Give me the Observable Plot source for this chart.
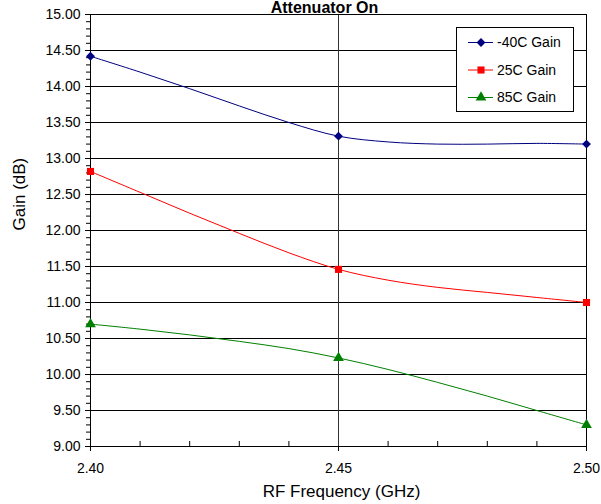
<!DOCTYPE html>
<html>
<head>
<meta charset="utf-8">
<script src="https://cdn.jsdelivr.net/npm/d3@7"></script>
<script src="https://cdn.jsdelivr.net/npm/@observablehq/plot@0.6"></script>
<style>
  html, body { margin: 0; padding: 0; background: #fff; }
  svg { font-family: "Liberation Sans", Arial, sans-serif; }
</style>
</head>
<body>
<div id="chart"></div>
<script>
// Frequencies (GHz) of the smoothed curve points
const freqs = [2.40, 2.41, 2.42, 2.43, 2.44, 2.45, 2.46, 2.47, 2.48, 2.49, 2.50];
// Frequencies where markers are shown
const markerFreqs = [2.40, 2.45, 2.50];
const gainM40 = [14.42, 14.20, 13.97, 13.73, 13.50, 13.31, 13.23, 13.20, 13.20, 13.21, 13.20];
const gain25  = [12.82, 12.53, 12.24, 11.96, 11.69, 11.46, 11.31, 11.21, 11.14, 11.07, 11.00];
const gain85  = [10.70, 10.63, 10.55, 10.46, 10.36, 10.23, 10.07, 9.89, 9.70, 9.50, 9.30];
const seriesNames = ["-40C Gain", "25C Gain", "85C Gain"];
const seriesColors = ["#000080", "#FF0000", "#008000"];
const seriesSymbols = ["diamond2", "square", "triangle"];
const xTicks = [2.40, 2.45, 2.50];
const xMinorTicks = [2.41, 2.42, 2.43, 2.44, 2.46, 2.47, 2.48, 2.49];
const yTicks = [9.0, 9.5, 10.0, 10.5, 11.0, 11.5, 12.0, 12.5, 13.0, 13.5, 14.0, 14.5, 15.0];
const yMinorTicks = d3.range(90, 151).map(v => v / 10);
const yGrid = [9.5, 10.0, 10.5, 11.0, 11.5, 12.0, 12.5, 13.0, 13.5, 14.0, 14.5];
const xGrid = [2.45];
const title = "Attenuator On";
const xLabel = "RF Frequency (GHz)";
const yLabel = "Gain (dB)";

const allGains = [gainM40, gain25, gain85];
const lineData = [];
allGains.forEach((g, s) => freqs.forEach((f, i) => lineData.push({f, gain: g[i], series: seriesNames[s]})));
const markerData = lineData.filter(d => markerFreqs.some(m => Math.abs(m - d.f) < 1e-9));

const marks = [
  Plot.ruleY(yGrid, {stroke: "#000", strokeWidth: 1}),
  Plot.ruleX(xGrid, {stroke: "#333", strokeWidth: 1}),
  Plot.axisY({ticks: yMinorTicks, tickSize: 4, tickFormat: null, text: null, label: null, stroke: "#000"}),
  Plot.axisY({ticks: yTicks, tickSize: 5, tickPadding: 5, tickFormat: d3.format(".2f"), label: null, fontSize: 14, stroke: "#000"}),
  Plot.axisX({ticks: xMinorTicks, tickSize: 5, dy: -5, text: null, label: null, stroke: "#000"}),
  Plot.axisX({ticks: xTicks, tickSize: 5, tickPadding: 12, tickFormat: d3.format(".2f"), label: null, fontSize: 14, stroke: "#000"}),
  Plot.frame({stroke: "#000"}),
];
seriesNames.forEach((name, s) => {
  const ld = lineData.filter(d => d.series === name);
  const md = markerData.filter(d => d.series === name);
  marks.push(Plot.line(ld, {x: "f", y: "gain", stroke: seriesColors[s], strokeWidth: 1, curve: "catmull-rom"}));
  marks.push(Plot.dot(md, {x: "f", y: "gain", fill: seriesColors[s], stroke: "none", symbol: seriesSymbols[s], r: s === 2 ? 4 : 4}));
});
marks.push(Plot.text([title], {frameAnchor: "top", dx: -14, dy: -2, lineAnchor: "bottom", fontWeight: "bold", fontSize: 16, fill: "#000"}));
marks.push(Plot.text([xLabel], {frameAnchor: "bottom", dx: 3, dy: 50, lineAnchor: "bottom", fontSize: 17, fill: "#000"}));
marks.push(Plot.text([yLabel], {frameAnchor: "left", dx: -71, rotate: -90, lineAnchor: "middle", fontSize: 17, fill: "#000"}));

const chart = Plot.plot({
  width: 601,
  height: 504,
  marginLeft: 90,
  marginRight: 15,
  marginTop: 14,
  marginBottom: 58,
  style: {fontFamily: "'Liberation Sans', Arial, sans-serif", fontSize: "14px", color: "#000", background: "#fff", overflow: "visible"},
  x: {domain: [2.40, 2.50]},
  y: {domain: [9, 15]},
  marks
});
document.getElementById("chart").appendChild(chart);

// Legend box (inside the plot area, top right)
const svg = d3.select(chart);
const lg = svg.append("g").attr("transform", "translate(456,27)").attr("text-anchor", "start");
lg.append("rect").attr("x", 0.5).attr("y", 0.5).attr("width", 117).attr("height", 84)
  .attr("fill", "#fff").attr("stroke", "#000").attr("stroke-width", 1);
const d3sym = {diamond2: d3.symbolDiamond2, square: d3.symbolSquare, triangle: d3.symbolTriangle};
seriesNames.forEach((name, s) => {
  const cy = 15.5 + s * 27.5;
  const row = lg.append("g").attr("transform", `translate(0,${cy})`);
  row.append("line").attr("x1", 12).attr("x2", 37).attr("y1", 0).attr("y2", 0)
    .attr("stroke", seriesColors[s]).attr("stroke-width", 1);
  const size = 16 * Math.PI;
  row.append("path").attr("transform", "translate(25,0)")
    .attr("d", d3.symbol(d3sym[seriesSymbols[s]], size)()).attr("fill", seriesColors[s]);
  row.append("text").attr("x", 41).attr("y", 0).attr("dy", "0.35em")
    .attr("text-anchor", "start").attr("font-size", 14).attr("fill", "#000").text(name);
});
</script>
</body>
</html>
